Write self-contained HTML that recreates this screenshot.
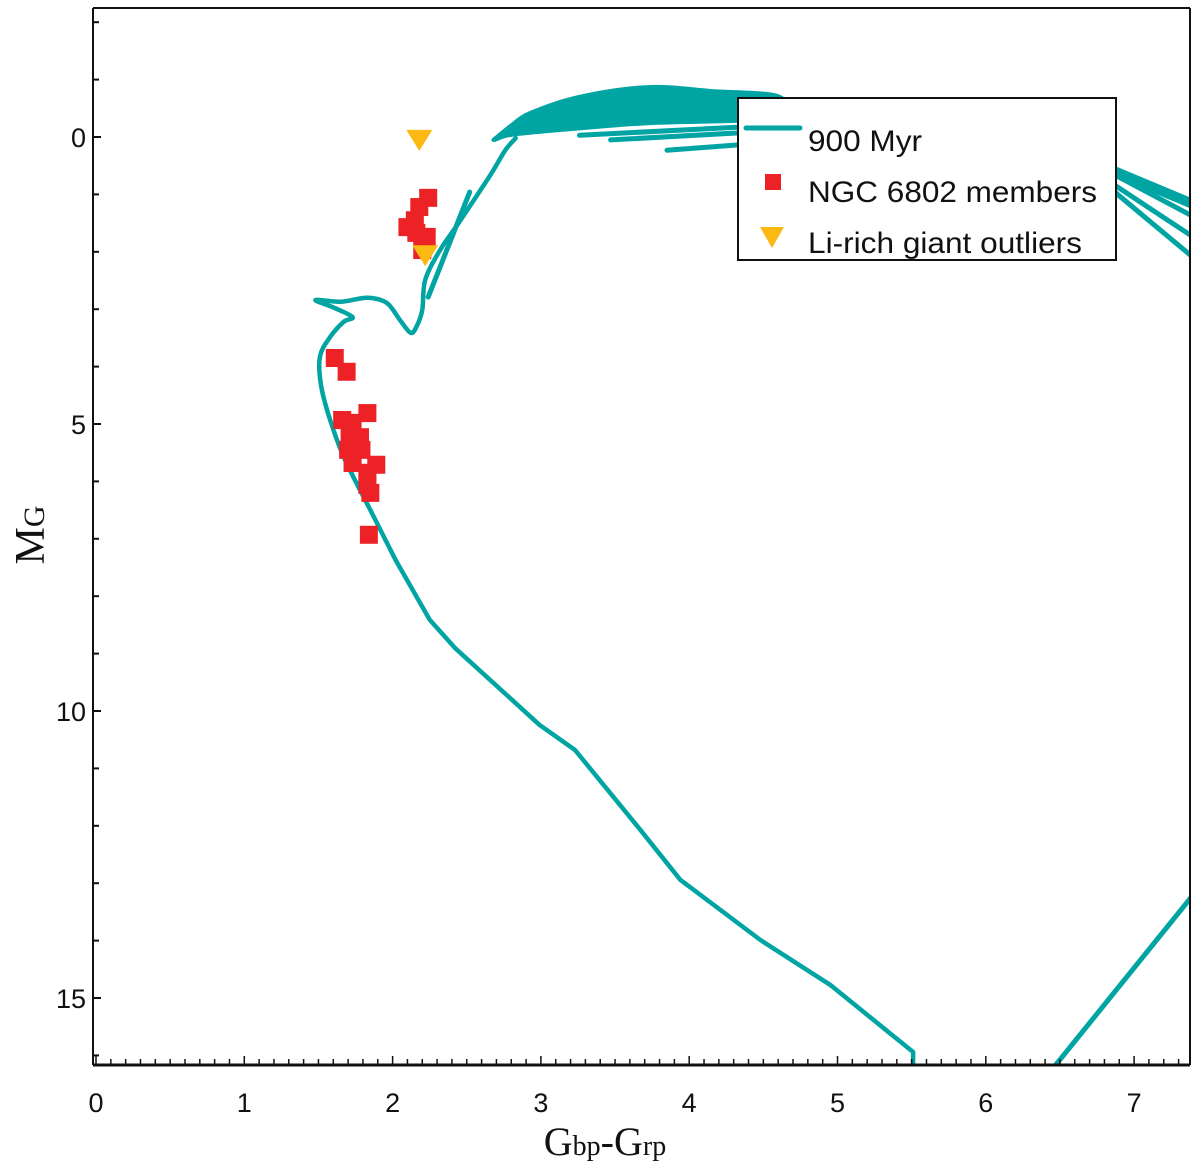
<!DOCTYPE html>
<html><head><meta charset="utf-8"><style>
html,body{margin:0;padding:0;background:#fff;}
svg{display:block;}
text{font-family:"Liberation Sans",Arial,sans-serif;fill:#111;}
</style></head><body>
<svg id="chart" width="1200" height="1176" viewBox="0 0 1200 1176" xmlns="http://www.w3.org/2000/svg">
<rect x="0" y="0" width="1200" height="1176" fill="#fff"/>
<g id="plot"></g>
<g id="axes"></g>
<g id="legend"></g>
</svg>
<script>
// ---- data ----
const xTicks = [0,1,2,3,4,5,6,7];
const yTicks = [0,5,10,15];
const isoMainColor = [5.51,5.51,4.95,4.48,3.94,3.67,3.23,2.99,2.42,2.25,2.02,1.85,1.68,1.59,1.52,1.51,1.58,1.67,1.73,1.61,1.48,1.65,1.83,1.96,2.05,2.12,2.16,2.20,2.22,2.32,2.45,2.66,2.76,2.83];
const isoMainMag   = [16.17,15.94,14.77,13.99,12.94,12.07,10.68,10.24,8.90,8.41,7.37,6.50,5.63,5.02,4.36,3.83,3.48,3.22,3.14,2.98,2.84,2.87,2.80,2.89,3.19,3.41,3.31,3.01,2.49,1.97,1.48,0.66,0.23,0.02];
const bandColor = [2.68,2.80,2.93,3.26,3.72,4.16,4.61,4.61,4.32,3.72,3.26,2.95,2.78,2.69];
const bandMag   = [0.05,-0.20,-0.42,-0.70,-0.87,-0.80,-0.70,-0.30,-0.28,-0.24,-0.15,-0.08,-0.03,0.05];
const isoBranchColor = [[2.24,2.52],[3.26,4.32],[3.47,4.32],[3.85,4.32],[6.87,7.38],[6.87,7.38],[6.87,7.38],[6.87,7.38],[6.47,7.38]];
const isoBranchMag   = [[2.79,0.96],[-0.03,-0.17],[0.05,-0.07],[0.23,0.14],[0.60,1.15],[0.66,1.36],[0.84,1.71],[0.96,2.06],[16.17,13.26]];
const memberColor = [2.24,2.18,2.15,2.10,2.16,2.23,2.20,1.61,1.69,1.83,1.66,1.73,1.71,1.78,1.70,1.79,1.73,1.89,1.83,1.83,1.85,1.84];
const memberMag   = [1.06,1.22,1.45,1.57,1.67,1.74,1.97,3.85,4.09,4.81,4.93,4.98,5.23,5.23,5.45,5.45,5.68,5.71,5.85,6.06,6.20,6.93];
const liColor = [2.18,2.22];
const liMag   = [0.05,2.06];

// ---- axes ----
const L=93,R=1190,T=8,B=1065;
const X0=96,XS=148.3,Y0=137,YS=57.4;
function sx(v){return X0+v*XS;}
function sy(v){return Y0+v*YS;}
const NS='http://www.w3.org/2000/svg';
function mk(tag,attrs,parent){const e=document.createElementNS(NS,tag);for(const k in attrs)e.setAttribute(k,attrs[k]);parent.appendChild(e);return e;}
const plot=document.getElementById('plot'),axes=document.getElementById('axes'),legend=document.getElementById('legend');
const TEAL='#00a5a3';

const defs=mk('defs',{},plot);
const cp=mk('clipPath',{id:'clip'},defs);
mk('rect',{x:L,y:T,width:R-L,height:B-T},cp);
const g=mk('g',{'clip-path':'url(#clip)'},plot);

function pathFrom(cs,ms){return cs.map((c,i)=>(i?'L':'M')+sx(c).toFixed(1)+' '+sy(ms[i]).toFixed(1)).join(' ');}
function smoothPts(p,start){
  let d=start?'':'M'+p[0][0].toFixed(1)+' '+p[0][1].toFixed(1);
  for(let i=0;i<p.length-1;i++){
    const p0=p[Math.max(0,i-1)],p1=p[i],p2=p[i+1],p3=p[Math.min(p.length-1,i+2)];
    const k=1/6;
    d+=' C'+(p1[0]+(p2[0]-p0[0])*k).toFixed(1)+' '+(p1[1]+(p2[1]-p0[1])*k).toFixed(1)+' '+(p2[0]-(p3[0]-p1[0])*k).toFixed(1)+' '+(p2[1]-(p3[1]-p1[1])*k).toFixed(1)+' '+p2[0].toFixed(1)+' '+p2[1].toFixed(1);
  }
  return d;
}
function smoothFrom(cs,ms){return smoothPts(cs.map((c,i)=>[sx(c),sy(ms[i])]),false);}
const SPLIT=11;
const mainD=pathFrom(isoMainColor.slice(0,SPLIT+1),isoMainMag.slice(0,SPLIT+1))+smoothPts(isoMainColor.slice(SPLIT).map((c,i)=>[sx(c),sy(isoMainMag[SPLIT+i])]),true);
const band=mk('path',{d:smoothFrom(bandColor,bandMag)+' Z',fill:TEAL,stroke:TEAL,'stroke-width':4,'stroke-linejoin':'round'},g);


const iso=mk('path',{d:mainD,fill:'none',stroke:TEAL,'stroke-width':4.5,'stroke-linejoin':'round','stroke-linecap':'round'},g);


isoBranchColor.forEach((cs,i)=>{
  const p=mk('path',{d:pathFrom(cs,isoBranchMag[i]),fill:'none',stroke:TEAL,'stroke-width':i===4?10:5,'stroke-linecap':'round'},g);
  
  
});
memberColor.forEach((c,i)=>{
  const r=mk('rect',{x:sx(c)-9,y:sy(memberMag[i])-9,width:18,height:18,fill:'#ec2227'},g);
  
  
});
liColor.forEach((c,i)=>{
  const x=sx(c),y=sy(liMag[i]);
  const p=mk('path',{d:`M${x-13} ${y-10} L${x+13} ${y-10} L${x} ${y+11} Z`,fill:'#fdb913'},g);
  
  
});

// frame
mk('line',{x1:L,y1:T,x2:R,y2:T,stroke:'#111','stroke-width':2},axes);
mk('line',{x1:L,y1:T,x2:L,y2:B,stroke:'#111','stroke-width':2},axes);
mk('line',{x1:R,y1:T,x2:R,y2:B,stroke:'#111','stroke-width':2},axes);
mk('line',{x1:L,y1:B,x2:R,y2:B,stroke:'#111','stroke-width':3},axes);
for(let k=0;k<=74;k++){const x=sx(k/10);if(x>R)break;mk('line',{x1:x,y1:B,x2:x,y2:B-(k%10===0?9:6),stroke:'#111','stroke-width':1.5},axes);}
xTicks.forEach(v=>{
  const t=mk('text',{x:sx(v),y:1112,'text-anchor':'middle','font-size':27},axes);t.textContent=v;
  
  
});
for(let m=-2;m<=16;m++){const y=sy(m);if(y<T||y>B)continue;mk('line',{x1:L,y1:y,x2:L+(m%5===0?8:6),y2:y,stroke:'#111','stroke-width':2},axes);}
yTicks.forEach(v=>{
  const t=mk('text',{x:86,y:sy(v)+10,'text-anchor':'end','font-size':27},axes);t.textContent=v;
  
  
});
const xl=mk('text',{x:605,y:1155,'text-anchor':'middle','font-size':40,style:'font-family:"Liberation Serif",serif'},axes);
xl.innerHTML='G<tspan font-size="28">bp</tspan>-G<tspan font-size="28">rp</tspan>';


const yl=mk('text',{x:0,y:0,'text-anchor':'middle','font-size':42,transform:'translate(44,535) rotate(-90)',style:'font-family:"Liberation Serif",serif'},axes);
yl.innerHTML='M<tspan font-size="30">G</tspan>';



// legend
const lb=mk('rect',{x:738,y:98,width:378,height:162,fill:'#fff',stroke:'#111','stroke-width':2},legend);


mk('line',{x1:746,y1:128,x2:800,y2:128,stroke:TEAL,'stroke-width':5,'stroke-linecap':'round'},legend);
mk('rect',{x:765,y:174,width:16,height:16,fill:'#ec2227'},legend);
mk('path',{d:'M760 227 L784 227 L772 248 Z',fill:'#fdb913'},legend);
[['900 Myr',151,'legend-entry-isochrone'],['NGC 6802 members',202,'legend-entry-members'],['Li-rich giant outliers',253,'legend-entry-li-rich']].forEach(a=>{
  const t=mk('text',{x:808,y:a[1],'font-size':30,textLength:a[0]==='900 Myr'?114:(a[0][0]==='N'?289:274),lengthAdjust:'spacingAndGlyphs'},legend);t.textContent=a[0];
  
  
});
</script>
</body></html>
